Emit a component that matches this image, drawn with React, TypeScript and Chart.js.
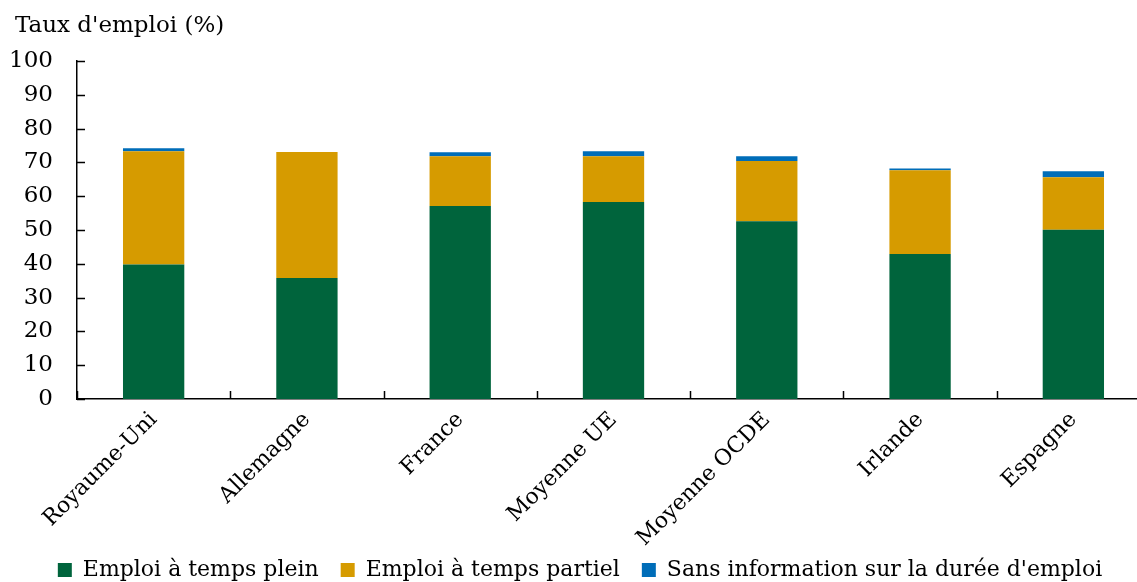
import React, { useEffect, useRef } from "react";
import { Chart, registerables } from "chart.js";

Chart.register(...registerables);

const categories = ["Royaume-Uni", "Allemagne", "France", "Moyenne UE", "Moyenne OCDE", "Irlande", "Espagne"];
const tempsPlein = [39.8, 35.8, 57.1, 58.3, 52.6, 42.9, 50.1];
const tempsPartiel = [33.5, 37.3, 14.7, 13.5, 17.8, 24.8, 15.5];
const sansInfo = [0.9, 0, 1.2, 1.5, 1.4, 0.5, 1.8];
const yTickValues = [0, 10, 20, 30, 40, 50, 60, 70, 80, 90, 100];
const seriesNames = ["Emploi à temps plein", "Emploi à temps partiel", "Sans information sur la durée d'emploi"];
const yTitle = "Taux d'emploi (%)";

const FONT = "'DejaVu Serif', serif";

const axisPlugin = {
  id: "insideTicks",
  afterLayout(chart: any) {
    const lg = chart.legend;
    if (lg) {
      lg.top -= 13;
      lg.bottom -= 13;
    }
  },
  afterDraw(chart: any) {
    const { ctx, scales } = chart;
    const x = scales.x;
    const y = scales.y;
    ctx.save();
    ctx.strokeStyle = "#000";
    ctx.lineWidth = 1.5;
    ctx.beginPath();
    yTickValues.forEach((v) => {
      const py = Math.round(y.getPixelForValue(v)) + 0.5;
      ctx.moveTo(x.left, py);
      ctx.lineTo(x.left + 8, py);
    });
    const n = categories.length;
    for (let i = 0; i <= n; i++) {
      const px = Math.round(x.left + (x.width / n) * i) + 0.5;
      ctx.moveTo(px, y.bottom);
      ctx.lineTo(px, y.bottom - 8);
    }
    ctx.stroke();
    ctx.fillStyle = "#000";
    ctx.font = `23px ${FONT}`;
    ctx.textBaseline = "alphabetic";
    ctx.textAlign = "left";
    ctx.fillText(yTitle, 15, 32);
    ctx.restore();
  },
};

export default function App() {
  const ref = useRef<HTMLCanvasElement>(null);
  useEffect(() => {
    if (!ref.current) return;
    Chart.defaults.font.family = FONT;
    Chart.defaults.color = "#000";
    const chart = new Chart(ref.current, {
      type: "bar",
      data: {
        labels: categories,
        datasets: [
          { label: seriesNames[0], data: tempsPlein, backgroundColor: "#00643C" },
          { label: seriesNames[1], data: tempsPartiel, backgroundColor: "#D69B00" },
          { label: seriesNames[2], data: sansInfo, backgroundColor: "#006DB8" },
        ],
      },
      options: {
        responsive: false,
        animation: false,
        layout: { padding: { top: 61, left: 10, right: 2, bottom: -22 } },
        datasets: { bar: { categoryPercentage: 1, barPercentage: 0.4 } },
        plugins: {
          title: { display: false },
          tooltip: { enabled: false },
          legend: {
            position: "bottom",
            labels: {
              boxWidth: 14,
              boxHeight: 14,
              padding: 22,
              font: { size: 22, family: FONT },
              color: "#000",
            },
          },
        },
        scales: {
          x: {
            stacked: true,
            grid: { display: false, drawTicks: false },
            border: { display: true, color: "#000", width: 1.5 },
            afterFit: (scale: any) => {
              scale.paddingLeft = 0;
              scale.paddingRight = 0;
              scale.height = 151;
            },
            ticks: {
              autoSkip: false,
              maxRotation: 45,
              minRotation: 45,
              padding: 8,
              font: { size: 22, family: FONT },
              color: "#000",
            },
          },
          y: {
            stacked: true,
            min: 0,
            max: 100,
            grid: { display: false, drawTicks: false },
            border: { display: true, color: "#000", width: 1.5 },
            afterBuildTicks: (scale: any) => {
              scale.ticks = yTickValues.map((v) => ({ value: v }));
            },
            afterFit: (scale: any) => {
              scale.width = 67;
            },
            ticks: {
              padding: 24,
              font: { size: 23, family: FONT },
              color: "#000",
            },
          },
        },
      },
      plugins: [axisPlugin],
    });
    return () => chart.destroy();
  }, []);
  return (
    <div style={{ position: "fixed", left: 0, top: 0, width: 1137, height: 582, overflow: "hidden", background: "#fff" }}>
      <canvas ref={ref} width={1152} height={582} style={{ display: "block" }} />
    </div>
  );
}
